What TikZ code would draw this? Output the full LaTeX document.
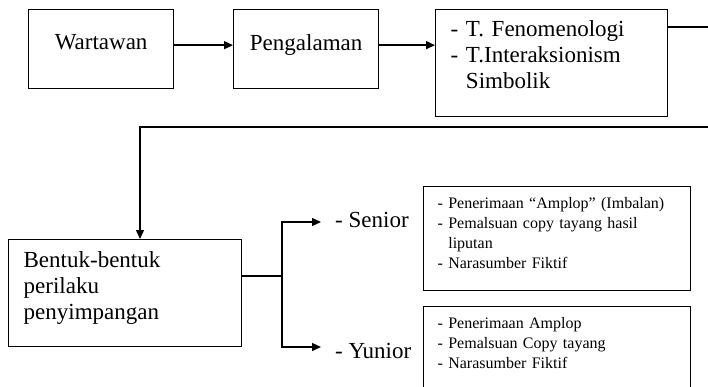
\documentclass[tikz,border=0pt]{standalone}
\usepackage{fontspec}
\setmainfont{Liberation Serif}
\newfontfamily\listfont[WordSpace=2]{Liberation Serif}
\usetikzlibrary{arrows.meta,positioning}

\tikzset{
  box/.style={draw, line width=1.3pt, inner ysep=0pt},
  conn/.style={line width=1.3pt, -{Triangle[length=9pt,width=8pt]}},
  plain/.style={line width=1.3pt},
  bigtext/.style={font=\fontsize{23}{26}\selectfont},
  listtext/.style={font=\listfont\fontsize{16}{20}\selectfont},
  branchtext/.style={bigtext, anchor=base west, inner xsep=14pt, inner ysep=0pt},
}

\begin{document}
\begin{tikzpicture}[x=1pt,y=-1pt]
\useasboundingbox (0,0) rectangle (708,387);

% first row
\node[box, bigtext, minimum width=145pt, text height=40pt, text depth=39pt, anchor=north west] (wartawan) at (28,9) {Wartawan};
\node[box, bigtext, minimum width=145pt, text height=41pt, text depth=38pt, anchor=north west] (pengalaman) at (233,9) {Pengalaman};
\node[box, bigtext, inner xsep=15pt, text width=202pt, text height=27pt, text depth=80pt, align=left, anchor=north west] (teori) at (435,9)
  {- T. Fenomenologi\\- T.Interaksionism\\\phantom{- }Simbolik};

\draw[conn] ([yshift=4pt]wartawan.east) -- ([yshift=4pt]wartawan.east -| pengalaman.west);
\draw[conn] ([yshift=4pt]pengalaman.east) -- ([yshift=4pt]pengalaman.east -| teori.west);

% line leaving the picture and coming back
\coordinate (edgeA) at (708,27);
\coordinate (edgeB) at (708,127);
\coordinate (turn) at (140,127);
\draw[plain] (teori.east |- edgeA) -- (edgeA);

% second row
\node[box, bigtext, inner xsep=15pt, text width=203pt, text height=28pt, text depth=79pt, align=left, anchor=north west] (bentuk) at (8,239)
  {Bentuk-bentuk\\perilaku\\penyimpangan};
\draw[conn] (edgeB) -- (turn) -- (turn |- bentuk.north);

\coordinate (split) at (282,276);
\node[branchtext] (senior) at (321,227) {- Senior};
\node[branchtext] (yunior) at (321,358) {- Yunior};
\draw[plain] (bentuk.east |- split) -- (split);
\draw[conn] (split) |- ([yshift=5pt]senior.base west);
\draw[conn] (split) |- ([yshift=11pt]yunior.base west);

\node[box, listtext, inner xsep=14pt, text width=239pt, text height=22pt, text depth=82pt, align=left, anchor=north west] (seniorlist) at (423,186)
  {- Penerimaan “Amplop” (Imbalan)\\- Pemalsuan copy tayang hasil\\\phantom{- }liputan\\- Narasumber Fiktif};
\node[box, listtext, inner xsep=14pt, text width=239pt, text height=22pt, text depth=100pt, align=left, anchor=north west] (yuniorlist) at (423,306)
  {- Penerimaan Amplop\\- Pemalsuan Copy tayang\\- Narasumber Fiktif};
\end{tikzpicture}
\end{document}
